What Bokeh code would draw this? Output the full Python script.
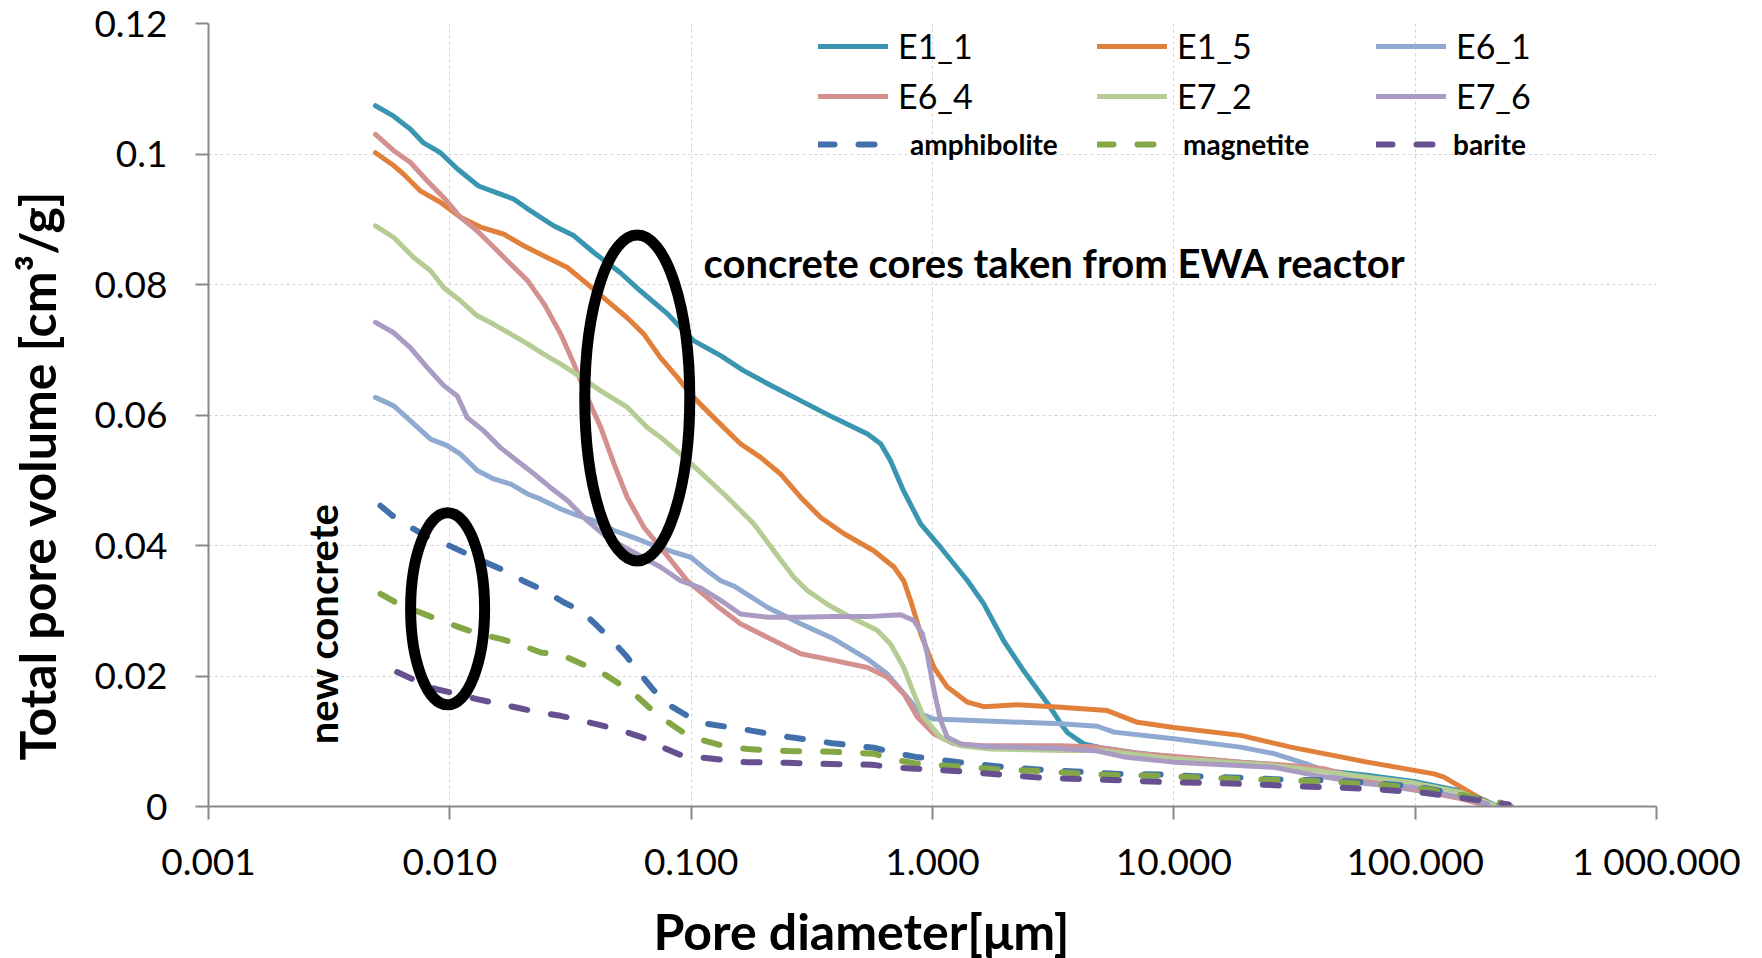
import math
from bokeh.plotting import figure
from bokeh.models import Range1d, FixedTicker, Legend, LegendItem, Label, Title
from bokeh.embed import file_html
from bokeh.resources import INLINE

# ---------------- data (pore diameter [um], total pore volume [cm3/g]) ----------------
E1_1_d = [0.00492, 0.00585, 0.00687, 0.00778, 0.00914, 0.01076, 0.01315, 0.01578, 0.01837, 0.0210, 0.0269, 0.0326,
          0.0395, 0.0509, 0.0617, 0.0798, 0.0904, 0.1023, 0.1325, 0.1648, 0.2075, 0.284, 0.389, 0.538, 0.610, 0.670,
          0.758, 0.893, 1.081, 1.397, 1.629, 1.972, 2.387, 3.00, 3.40, 3.63, 4.23, 4.98, 7.0, 10.0, 18.9, 26.0, 39.4,
          63.4, 100, 154, 196, 220]
E1_1_v = [0.1074, 0.1058, 0.1038, 0.1017, 0.1002, 0.0977, 0.0951, 0.0940, 0.0931, 0.0916, 0.0890, 0.0875,
          0.0849, 0.0818, 0.0790, 0.0755, 0.0734, 0.0714, 0.0691, 0.0668, 0.0648, 0.0622, 0.0596, 0.0571, 0.0556, 0.0530,
          0.0484, 0.0433, 0.0397, 0.0346, 0.0311, 0.0254, 0.0208, 0.0158, 0.0127, 0.0113, 0.0096, 0.0090, 0.0082, 0.0076,
          0.0068, 0.0064, 0.0056, 0.0048, 0.0038, 0.0024, 0.0009, 0.0]

E1_5_d = [0.00492, 0.00577, 0.00644, 0.00757, 0.00914, 0.01107, 0.0134, 0.01676, 0.0203, 0.0254, 0.0307, 0.0371,
          0.0449, 0.0543, 0.0637, 0.0746, 0.0875, 0.1023, 0.128, 0.160, 0.194, 0.234, 0.284, 0.344, 0.430, 0.571,
          0.692, 0.760, 0.811, 0.893, 1.014, 1.152, 1.393, 1.633, 2.245, 3.40, 5.30, 7.06, 10.0, 18.9, 30.5, 49.1,
          63.4, 119.7, 131.6, 154.3, 192.8, 211]
E1_5_v = [0.1002, 0.0984, 0.0969, 0.0943, 0.0926, 0.0903, 0.0888, 0.0877, 0.0859, 0.0841, 0.0826, 0.0801,
          0.0775, 0.0749, 0.0724, 0.0688, 0.0658, 0.0627, 0.0591, 0.0556, 0.0535, 0.0510, 0.0474, 0.0443, 0.0418, 0.0392,
          0.0367, 0.0346, 0.0316, 0.0265, 0.0213, 0.0183, 0.0160, 0.0153, 0.0156, 0.0152, 0.0147, 0.0129, 0.0121, 0.0109,
          0.0091, 0.0076, 0.0068, 0.0050, 0.0045, 0.0030, 0.0009, 0.0]

E6_1_d = [0.00492, 0.00586, 0.00687, 0.00832, 0.00975, 0.01107, 0.0130, 0.0152, 0.0179, 0.0210, 0.0238, 0.0288,
          0.0337, 0.0395, 0.0479, 0.0579, 0.0700, 0.0847, 0.0996, 0.117, 0.1325, 0.150, 0.2075, 0.284, 0.389, 0.538,
          0.650, 0.787, 0.893, 1.014, 1.393, 3.40, 4.82, 5.65, 10.0, 18.9, 26.0, 35.7, 41.9, 49.1, 63.4, 95.8, 154,
          200, 220]
E6_1_v = [0.0627, 0.0614, 0.0591, 0.0563, 0.0553, 0.0540, 0.0515, 0.0502, 0.0494, 0.0479, 0.0471, 0.0456,
          0.0446, 0.0438, 0.0423, 0.0412, 0.0400, 0.0390, 0.0382, 0.0361, 0.0346, 0.0338, 0.0305, 0.0280, 0.0257, 0.0226,
          0.0203, 0.0167, 0.0142, 0.0134, 0.0132, 0.0127, 0.0123, 0.0114, 0.0104, 0.0091, 0.0081, 0.0065, 0.0055, 0.0046,
          0.0036, 0.0026, 0.0014, 0.0006, 0.0]

E6_4_d = [0.00492, 0.00586, 0.00687, 0.00805, 0.00944, 0.01107, 0.0130, 0.0157, 0.0179, 0.0210, 0.0246, 0.0288,
          0.0327, 0.0371, 0.0422, 0.0479, 0.0543, 0.0637, 0.0746, 0.0964, 0.1325, 0.160, 0.2075, 0.284, 0.389, 0.538,
          0.650, 0.760, 0.865, 1.014, 1.227, 1.633, 3.40, 4.82, 7.28, 10.0, 18.9, 30.5, 41.9, 63.4, 95.8, 154, 196]
E6_4_v = [0.1030, 0.1005, 0.0987, 0.0959, 0.0933, 0.0903, 0.0882, 0.0852, 0.0831, 0.0806, 0.0770, 0.0724,
          0.0678, 0.0627, 0.0581, 0.0525, 0.0474, 0.0428, 0.0397, 0.0346, 0.0303, 0.0280, 0.0259, 0.0234, 0.0224, 0.0213,
          0.0198, 0.0173, 0.0137, 0.0111, 0.0096, 0.0093, 0.0093, 0.0091, 0.0081, 0.0077, 0.0068, 0.0063, 0.0058, 0.0040,
          0.0027, 0.0012, 0.0002]

E7_2_d = [0.00492, 0.00586, 0.00710, 0.00832, 0.00944, 0.01107, 0.0130, 0.0152, 0.0179, 0.0210, 0.0246, 0.0288,
          0.0349, 0.0422, 0.0543, 0.0658, 0.0746, 0.0904, 0.1094, 0.141, 0.182, 0.220, 0.267, 0.303, 0.366, 0.458,
          0.590, 0.670, 0.760, 0.837, 0.920, 1.081, 1.307, 1.741, 3.40, 4.98, 10.0, 26.0, 39.4, 63.4, 95.8, 154, 211]
E7_2_v = [0.0890, 0.0872, 0.0841, 0.0821, 0.0795, 0.0775, 0.0752, 0.0739, 0.0724, 0.0709, 0.0693, 0.0678,
          0.0658, 0.0637, 0.0612, 0.0581, 0.0566, 0.0540, 0.0512, 0.0474, 0.0433, 0.0392, 0.0351, 0.0331, 0.0310, 0.0290,
          0.0270, 0.0249, 0.0213, 0.0173, 0.0137, 0.0106, 0.0093, 0.0088, 0.0086, 0.0086, 0.0073, 0.0063, 0.0055, 0.0045,
          0.0037, 0.0022, 0.0002]

E7_6_d = [0.00492, 0.00586, 0.00687, 0.00805, 0.00944, 0.01074, 0.0118, 0.0138, 0.0162, 0.0190, 0.0223, 0.0261,
          0.0307, 0.0371, 0.0449, 0.0543, 0.0746, 0.0904, 0.1094, 0.1325, 0.160, 0.2075, 0.284, 0.389, 0.538, 0.738,
          0.837, 0.908, 0.951, 1.014, 1.081, 1.152, 1.307, 1.633, 3.40, 4.82, 6.21, 10.0, 26.0, 39.4, 63.4, 95.8, 154,
          200]
E7_6_v = [0.0742, 0.0726, 0.0703, 0.0673, 0.0645, 0.0629, 0.0596, 0.0576, 0.0550, 0.0530, 0.0510, 0.0489,
          0.0469, 0.0438, 0.0412, 0.0395, 0.0367, 0.0346, 0.0335, 0.0316, 0.0295, 0.0290, 0.0290, 0.0291, 0.0291, 0.0294,
          0.0285, 0.0265, 0.0234, 0.0178, 0.0132, 0.0106, 0.0096, 0.0092, 0.0089, 0.0085, 0.0076, 0.0068, 0.0060, 0.0047,
          0.0035, 0.0030, 0.0014, 0.0004]

amph_d = [0.00516, 0.00577, 0.00687, 0.00818, 0.00991, 0.0118, 0.0145, 0.0170, 0.0206, 0.0246, 0.0296, 0.0349,
          0.0408, 0.0471, 0.0543, 0.0607, 0.0700, 0.0798, 0.0964, 0.1148, 0.173, 0.258, 0.385, 0.571, 0.703, 0.851,
          1.286, 1.915, 2.90, 4.23, 5.85, 8.81, 13.2, 19.8, 29.6, 44.7, 66.0, 100, 148.6, 216, 249]
amph_v = [0.0461, 0.0446, 0.0428, 0.0412, 0.0400, 0.0387, 0.0372, 0.0361, 0.0344, 0.0331, 0.0313, 0.0300,
          0.0277, 0.0254, 0.0229, 0.0206, 0.0178, 0.0157, 0.0139, 0.0127, 0.0117, 0.0106, 0.0097, 0.0090, 0.0082, 0.0076,
          0.0068, 0.0061, 0.0056, 0.0053, 0.0050, 0.0049, 0.0046, 0.0044, 0.0041, 0.0040, 0.0036, 0.0031, 0.0019, 0.0007,
          0.0]

magn_d = [0.00516, 0.00615, 0.00745, 0.00887, 0.01089, 0.0130, 0.0162, 0.0193, 0.0238, 0.0288, 0.0349, 0.0415,
          0.0494, 0.0579, 0.0679, 0.0783, 0.0948, 0.113, 0.139, 0.171, 0.254, 0.385, 0.571, 0.692, 0.851, 1.286,
          1.915, 2.90, 4.23, 5.85, 8.81, 13.2, 19.8, 29.6, 44.7, 66.0, 100, 148.6, 216, 249]
magn_v = [0.0326, 0.0310, 0.0298, 0.0287, 0.0275, 0.0265, 0.0257, 0.0249, 0.0236, 0.0233, 0.0219, 0.0208,
          0.0190, 0.0173, 0.0150, 0.0132, 0.0111, 0.0101, 0.0092, 0.0088, 0.0085, 0.0084, 0.0081, 0.0072, 0.0066, 0.0061,
          0.0057, 0.0054, 0.0050, 0.0048, 0.0047, 0.0044, 0.0042, 0.0040, 0.0038, 0.0034, 0.0029, 0.0019, 0.0008, 0.0]

bar_d = [0.00605, 0.00721, 0.00873, 0.01057, 0.0128, 0.0157, 0.0193, 0.0234, 0.0288, 0.0349, 0.0429, 0.0517,
         0.0627, 0.0758, 0.0918, 0.111, 0.168, 0.251, 0.380, 0.561, 0.692, 0.851, 1.28, 1.915, 2.85, 4.3, 6.4, 9.6,
         14.4, 21.8, 32.8, 49.1, 72.4, 108, 165, 244]
bar_v = [0.0206, 0.0193, 0.0180, 0.0173, 0.0165, 0.0158, 0.0151, 0.0144, 0.0139, 0.0132, 0.0124, 0.0116,
         0.0106, 0.0091, 0.0078, 0.0075, 0.0068, 0.0067, 0.0065, 0.0064, 0.0060, 0.0058, 0.0054, 0.0049, 0.0044, 0.0042,
         0.0040, 0.0037, 0.0036, 0.0034, 0.0031, 0.0029, 0.0026, 0.0021, 0.0012, 0.0003]

series_names = ["E1_1", "E1_5", "E6_1", "E6_4", "E7_2", "E7_6", "amphibolite", "magnetite", "barite"]
series_colors = ["#3A96B0", "#E0803A", "#8FA9D1", "#D48F8F", "#B5CD94", "#A99BC1", "#4270AB", "#84A746", "#67508F"]

x_ticks = [0.001, 0.01, 0.1, 1, 10, 100, 1000]
x_tick_labels = ["0.001", "0.010", "0.100", "1.000", "10.000", "100.000", "1 000.000"]
y_ticks = [0, 0.02, 0.04, 0.06, 0.08, 0.1, 0.12]
y_tick_labels = ["0", "0.02", "0.04", "0.06", "0.08", "0.1", "0.12"]

# annotation ellipses: centre (diameter, volume) and screen size
ellipse_x = [0.0598, 0.00979]
ellipse_y = [0.0626, 0.0303]
ellipse_w = [105, 74]
ellipse_h = [326, 192]

FONT = "Lato"

p = figure(x_axis_type="log", x_range=Range1d(0.001, 1000), y_range=Range1d(0, 0.12),
           frame_width=1448, frame_height=783,
           min_border_left=208, min_border_right=106, min_border_top=23, min_border_bottom=148,
           output_backend="svg", toolbar_location=None)
p.outline_line_color = None
p.background_fill_color = "white"
p.border_fill_color = "white"

for ax, ticks, labels in ((p.xaxis[0], x_ticks, x_tick_labels), (p.yaxis[0], y_ticks, y_tick_labels)):
    ax.ticker = FixedTicker(ticks=ticks)
    ax.major_label_overrides = {t: l for t, l in zip(ticks, labels)}
    ax.major_label_text_font = FONT
    ax.major_label_text_font_size = "37px"
    ax.major_label_text_color = "black"
    ax.axis_line_color = "#898989"
    ax.axis_line_width = 2
    ax.major_tick_line_color = "#898989"
    ax.major_tick_line_width = 2
    ax.major_tick_out = 13
    ax.major_tick_in = 0
    ax.minor_tick_line_color = None
    # blank axis label only used as a spacer before the real title
    ax.axis_label = " "
    ax.axis_label_text_font_size = "1px"
p.xaxis.major_label_standoff = 18
p.yaxis.major_label_standoff = 28
p.xaxis.axis_label_standoff = 11
p.yaxis.axis_label_standoff = 21

p.xgrid.ticker = FixedTicker(ticks=x_ticks)
p.ygrid.ticker = FixedTicker(ticks=y_ticks)
for g in (p.xgrid[0], p.ygrid[0]):
    g.grid_line_color = "#D4D4D4"
    g.grid_line_dash = "3 3"
    g.grid_line_width = 1

data = [(E1_1_d, E1_1_v), (E1_5_d, E1_5_v), (E6_1_d, E6_1_v), (E6_4_d, E6_4_v), (E7_2_d, E7_2_v),
        (E7_6_d, E7_6_v), (amph_d, amph_v), (magn_d, magn_v), (bar_d, bar_v)]
renderers = []
for i, ((d, v), name, col) in enumerate(zip(data, series_names, series_colors)):
    if i < 6:
        r = p.line(d, v, line_color=col, line_width=5, line_join="round", line_cap="round")
    else:
        r = p.line(d, v, line_color=col, line_width=6, line_dash="16 24", line_cap="round",
                   line_join="round")
    renderers.append(r)

# legends
def make_legend(idx, loc, font_size, bold, gw, standoff, lw):
    lg = Legend(items=[LegendItem(label=series_names[i], renderers=[renderers[i]]) for i in idx],
                orientation="horizontal", location=loc,
                label_text_font=FONT, label_text_font_size=font_size,
                label_text_font_style="bold" if bold else "normal",
                label_text_color="black",
                glyph_width=gw, glyph_height=40, label_height=40, label_standoff=standoff,
                label_width=lw, spacing=0, padding=0, margin=0,
                border_line_color=None, background_fill_alpha=0)
    p.add_layout(lg)

make_legend([0, 1, 2], (610, 740), "34px", False, 70, 10, 199)
make_legend([3, 4, 5], (610, 690), "34px", False, 70, 10, 199)
make_legend([6], (610, 642), "28px", True, 64, 28, 150)
make_legend([7], (889, 642), "28px", True, 64, 22, 150)
make_legend([8], (1168, 642), "28px", True, 60, 17, 100)

# annotation ellipses
p.ellipse(x=ellipse_x, y=ellipse_y, width=ellipse_w, height=ellipse_h,
          width_units="screen", height_units="screen",
          fill_alpha=0, line_color="black", line_width=11)

# annotation texts
p.add_layout(Label(x=0.1125, y=0.0833, text="concrete cores taken from EWA reactor",
                   text_font=FONT, text_font_size="40px", text_font_style="bold",
                   text_align="left", text_baseline="middle", text_color="black"))
p.add_layout(Label(x=0.00299, y=0.0280, text="new concrete", angle=math.pi / 2,
                   text_font=FONT, text_font_size="40px", text_font_style="bold",
                   text_align="center", text_baseline="middle", text_color="black"))

# axis titles
p.add_layout(Title(text="Pore diameter[μm]", align="left", offset=445, vertical_align="top", standoff=0,
                   text_font=FONT, text_font_size="50px", text_font_style="bold", text_color="black"),
             "below")
p.add_layout(Title(text="Total pore volume [cm³/g]", align="left", offset=46, vertical_align="bottom",
                   standoff=0, text_font=FONT, text_font_size="50px", text_font_style="bold",
                   text_color="black"),
             "left")

open("out.html", "w").write(file_html(p, INLINE))
